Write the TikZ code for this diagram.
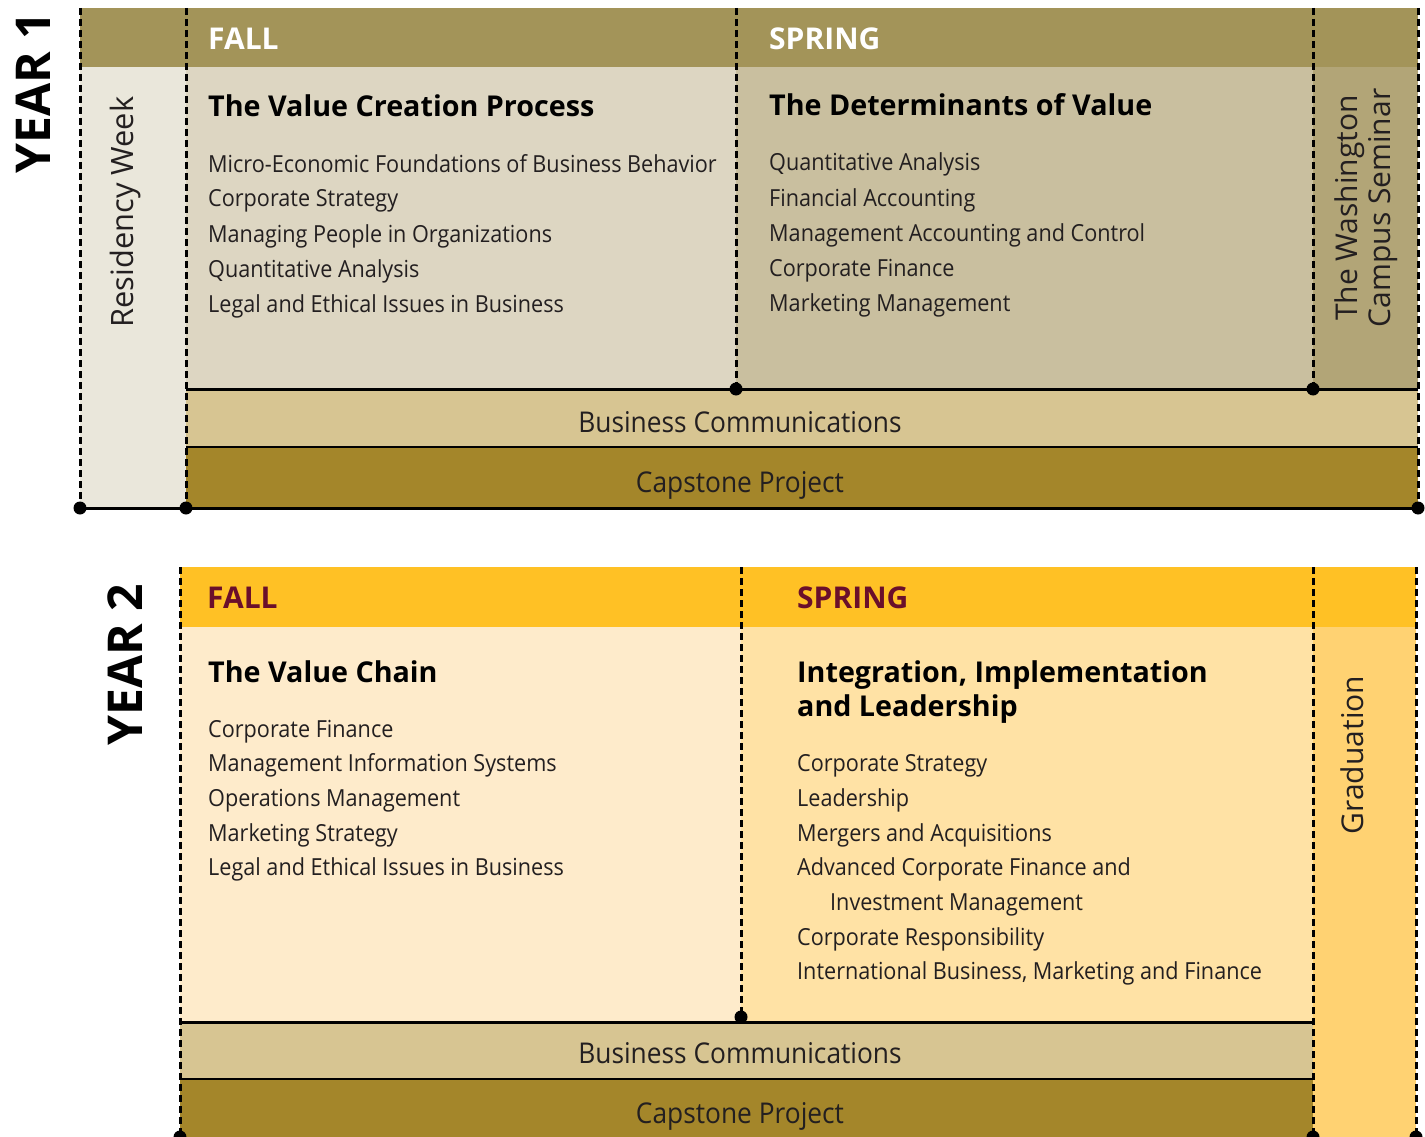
\documentclass[tikz,border=0pt]{standalone}
\usepackage{fontspec}
\setmainfont{Open Sans}
\newfontfamily\narrowfont{Open Sans}[FakeStretch=0.92]
\definecolor{hdrA}{HTML}{A39459}
\definecolor{resA}{HTML}{EAE7DB}
\definecolor{fallA}{HTML}{DDD6C2}
\definecolor{sprA}{HTML}{C9BF9F}
\definecolor{washA}{HTML}{B2A577}
\definecolor{bcomm}{HTML}{D7C592}
\definecolor{capst}{HTML}{A4862A}
\definecolor{hdrB}{HTML}{FFC125}
\definecolor{fallB}{HTML}{FEEBCB}
\definecolor{sprB}{HTML}{FFE2A5}
\definecolor{gradB}{HTML}{FFD272}
\definecolor{maroon}{HTML}{6A0F2B}
\definecolor{ink}{HTML}{231F20}
\begin{document}
\begin{tikzpicture}[x=1pt,y=-1pt,
  dline/.style={line width=3pt, dash pattern=on 7pt off 4pt},
  sline/.style={line width=3pt},
  tline/.style={line width=1.3pt},
  blob/.style={circle, fill=black, inner sep=0pt, minimum size=13pt},
  itm/.style={anchor=base west, inner sep=0pt, text=ink, font=\narrowfont\fontsize{23.5}{28}\selectfont},
  ttl/.style={anchor=base west, inner sep=0pt, text=black, font=\bfseries\fontsize{28.7}{34}\selectfont},
  sem/.style={anchor=base west, inner sep=0pt, font=\bfseries\fontsize{30}{36}\selectfont},
  band/.style={anchor=base, inner sep=0pt, text=ink, font=\narrowfont\fontsize{28.6}{34}\selectfont},
  vert/.style={anchor=base, inner sep=0pt, rotate=90, text=ink, font=\fontsize{30}{36}\selectfont},
  yr/.style={anchor=base, inner sep=0pt, rotate=90, text=black, font=\bfseries\fontsize{48}{56}\selectfont}
]
\useasboundingbox (0,0) rectangle (1425,1137);
% ---------------- YEAR 1 fills
\fill[hdrA] (80,8) rectangle (1418,67);
\fill[resA] (80,67) rectangle (186,508);
\fill[fallA] (186,67) rectangle (736,389);
\fill[sprA] (736,67) rectangle (1313,389);
\fill[washA] (1313,67) rectangle (1418,389);
\fill[bcomm] (186,389) rectangle (1418,447);
\fill[capst] (186,447) rectangle (1418,508);
% coordinates
\coordinate (a1t) at (80,8);    \coordinate (a1b) at (80,508);
\coordinate (b1t) at (186,8);   \coordinate (b1b) at (186,508); \coordinate (b1m) at (186,389);
\coordinate (c1t) at (736,8);   \coordinate (c1b) at (736,389);
\coordinate (d1t) at (1313,8);  \coordinate (d1b) at (1313,389);
\coordinate (e1t) at (1418,8);  \coordinate (e1b) at (1418,508); \coordinate (e1m) at (1418,389);
\coordinate (b1c) at (186,447); \coordinate (e1c) at (1418,447);
\draw[tline] (b1c) -- (e1c);
\draw[sline] (b1m) -- (e1m);
\draw[sline] (a1b) -- (e1b);
\draw[dline] (a1t) -- (a1b);
\draw[dline] (b1t) -- (b1b);
\draw[dline] (c1t) -- (c1b);
\draw[dline] (d1t) -- (d1b);
\draw[dline] (e1t) -- (e1b);
\node[blob] (k1) at (a1b) {};
\node[blob] (k2) at (b1b) {};
\node[blob] (k3) at (c1b) {};
\node[blob] (k4) at (d1b) {};
\node[blob] (k5) at (e1b) {};
% text Y1
\node[yr] (y1) at (50,93) {YEAR 1};
\node[sem, text=white] (f1) at (208,50) {FALL};
\node[sem, text=white] (s1) at (769,50) {SPRING};
\node[vert, font=\fontsize{30.8}{36}\selectfont] (res) at (133,212) {Residency Week};
\node[vert] (wa1) at (1357,208) {The Washington};
\node[vert] (wa2) at (1390,208) {Campus Seminar};
\node[ttl] (t1) at (208,117) {The Value Creation Process};
\node[itm] (i11) at (208,172) {Micro-Economic Foundations of Business Behavior};
\node[itm] (i12) at (208,207) {Corporate Strategy};
\node[itm] (i13) at (208,242) {Managing People in Organizations};
\node[itm] (i14) at (208,277) {Quantitative Analysis};
\node[itm] (i15) at (208,312) {Legal and Ethical Issues in Business};
\node[ttl] (t2) at (769,116) {The Determinants of Value};
\node[itm] (i21) at (769,171) {Quantitative Analysis};
\node[itm] (i22) at (769,206) {Financial Accounting};
\node[itm] (i23) at (769,241) {Management Accounting and Control};
\node[itm] (i24) at (769,276) {Corporate Finance};
\node[itm] (i25) at (769,311) {Marketing Management};
\node[band] (bc1) at (740,432) {Business Communications};
\node[band] (cp1) at (740,492) {Capstone Project};
% ---------------- YEAR 2 fills
\fill[hdrB] (180,567) rectangle (1416,627);
\fill[fallB] (180,627) rectangle (741,1022);
\fill[sprB] (741,627) rectangle (1313,1022);
\fill[gradB] (1313,627) rectangle (1416,1137);
\fill[bcomm] (180,1022) rectangle (1313,1079);
\fill[capst] (180,1079) rectangle (1313,1137);
\coordinate (a2t) at (180,567);  \coordinate (a2b) at (180,1137); \coordinate (a2m) at (180,1022); \coordinate (a2c) at (180,1079);
\coordinate (c2t) at (741,567);  \coordinate (c2b) at (741,1017);
\coordinate (d2t) at (1313,567); \coordinate (d2b) at (1313,1137); \coordinate (d2m) at (1313,1022); \coordinate (d2c) at (1313,1079);
\coordinate (e2t) at (1416,567); \coordinate (e2b) at (1416,1137);
\draw[tline] (a2c) -- (d2c);
\draw[sline] (a2m) -- (d2m);
\draw[dline] (a2t) -- (a2b);
\draw[dline] (c2t) -- (c2b);
\draw[dline] (d2t) -- (d2b);
\draw[dline] (e2t) -- (e2b);
\node[blob] (m1) at (c2b) {};
\node[blob] (m2) at (a2b) {};
\node[blob] (m3) at (d2b) {};
\node[blob] (m4) at (e2b) {};
\node[yr] (y2) at (142,665) {YEAR 2};
\node[sem, text=maroon] (f2) at (207,608) {FALL};
\node[sem, text=maroon] (s2) at (797,608) {SPRING};
\node[vert] (grad) at (1363,755) {Graduation};
\node[ttl] (t3) at (208,682) {The Value Chain};
\node[itm] (j11) at (208,737) {Corporate Finance};
\node[itm] (j12) at (208,771) {Management Information Systems};
\node[itm] (j13) at (208,806) {Operations Management};
\node[itm] (j14) at (208,841) {Marketing Strategy};
\node[itm] (j15) at (208,875) {Legal and Ethical Issues in Business};
\node[ttl] (t4) at (797,682) {Integration, Implementation};
\node[ttl] (t5) at (797,716) {and Leadership};
\node[itm] (j21) at (797,771) {Corporate Strategy};
\node[itm] (j22) at (797,806) {Leadership};
\node[itm] (j23) at (797,841) {Mergers and Acquisitions};
\node[itm] (j24) at (797,875) {Advanced Corporate Finance and};
\node[itm] (j25) at (830,910) {Investment Management};
\node[itm] (j26) at (797,945) {Corporate Responsibility};
\node[itm] (j27) at (797,979) {International Business, Marketing and Finance};
\node[band] (bc2) at (740,1063) {Business Communications};
\node[band] (cp2) at (740,1123) {Capstone Project};
\end{tikzpicture}
\end{document}
